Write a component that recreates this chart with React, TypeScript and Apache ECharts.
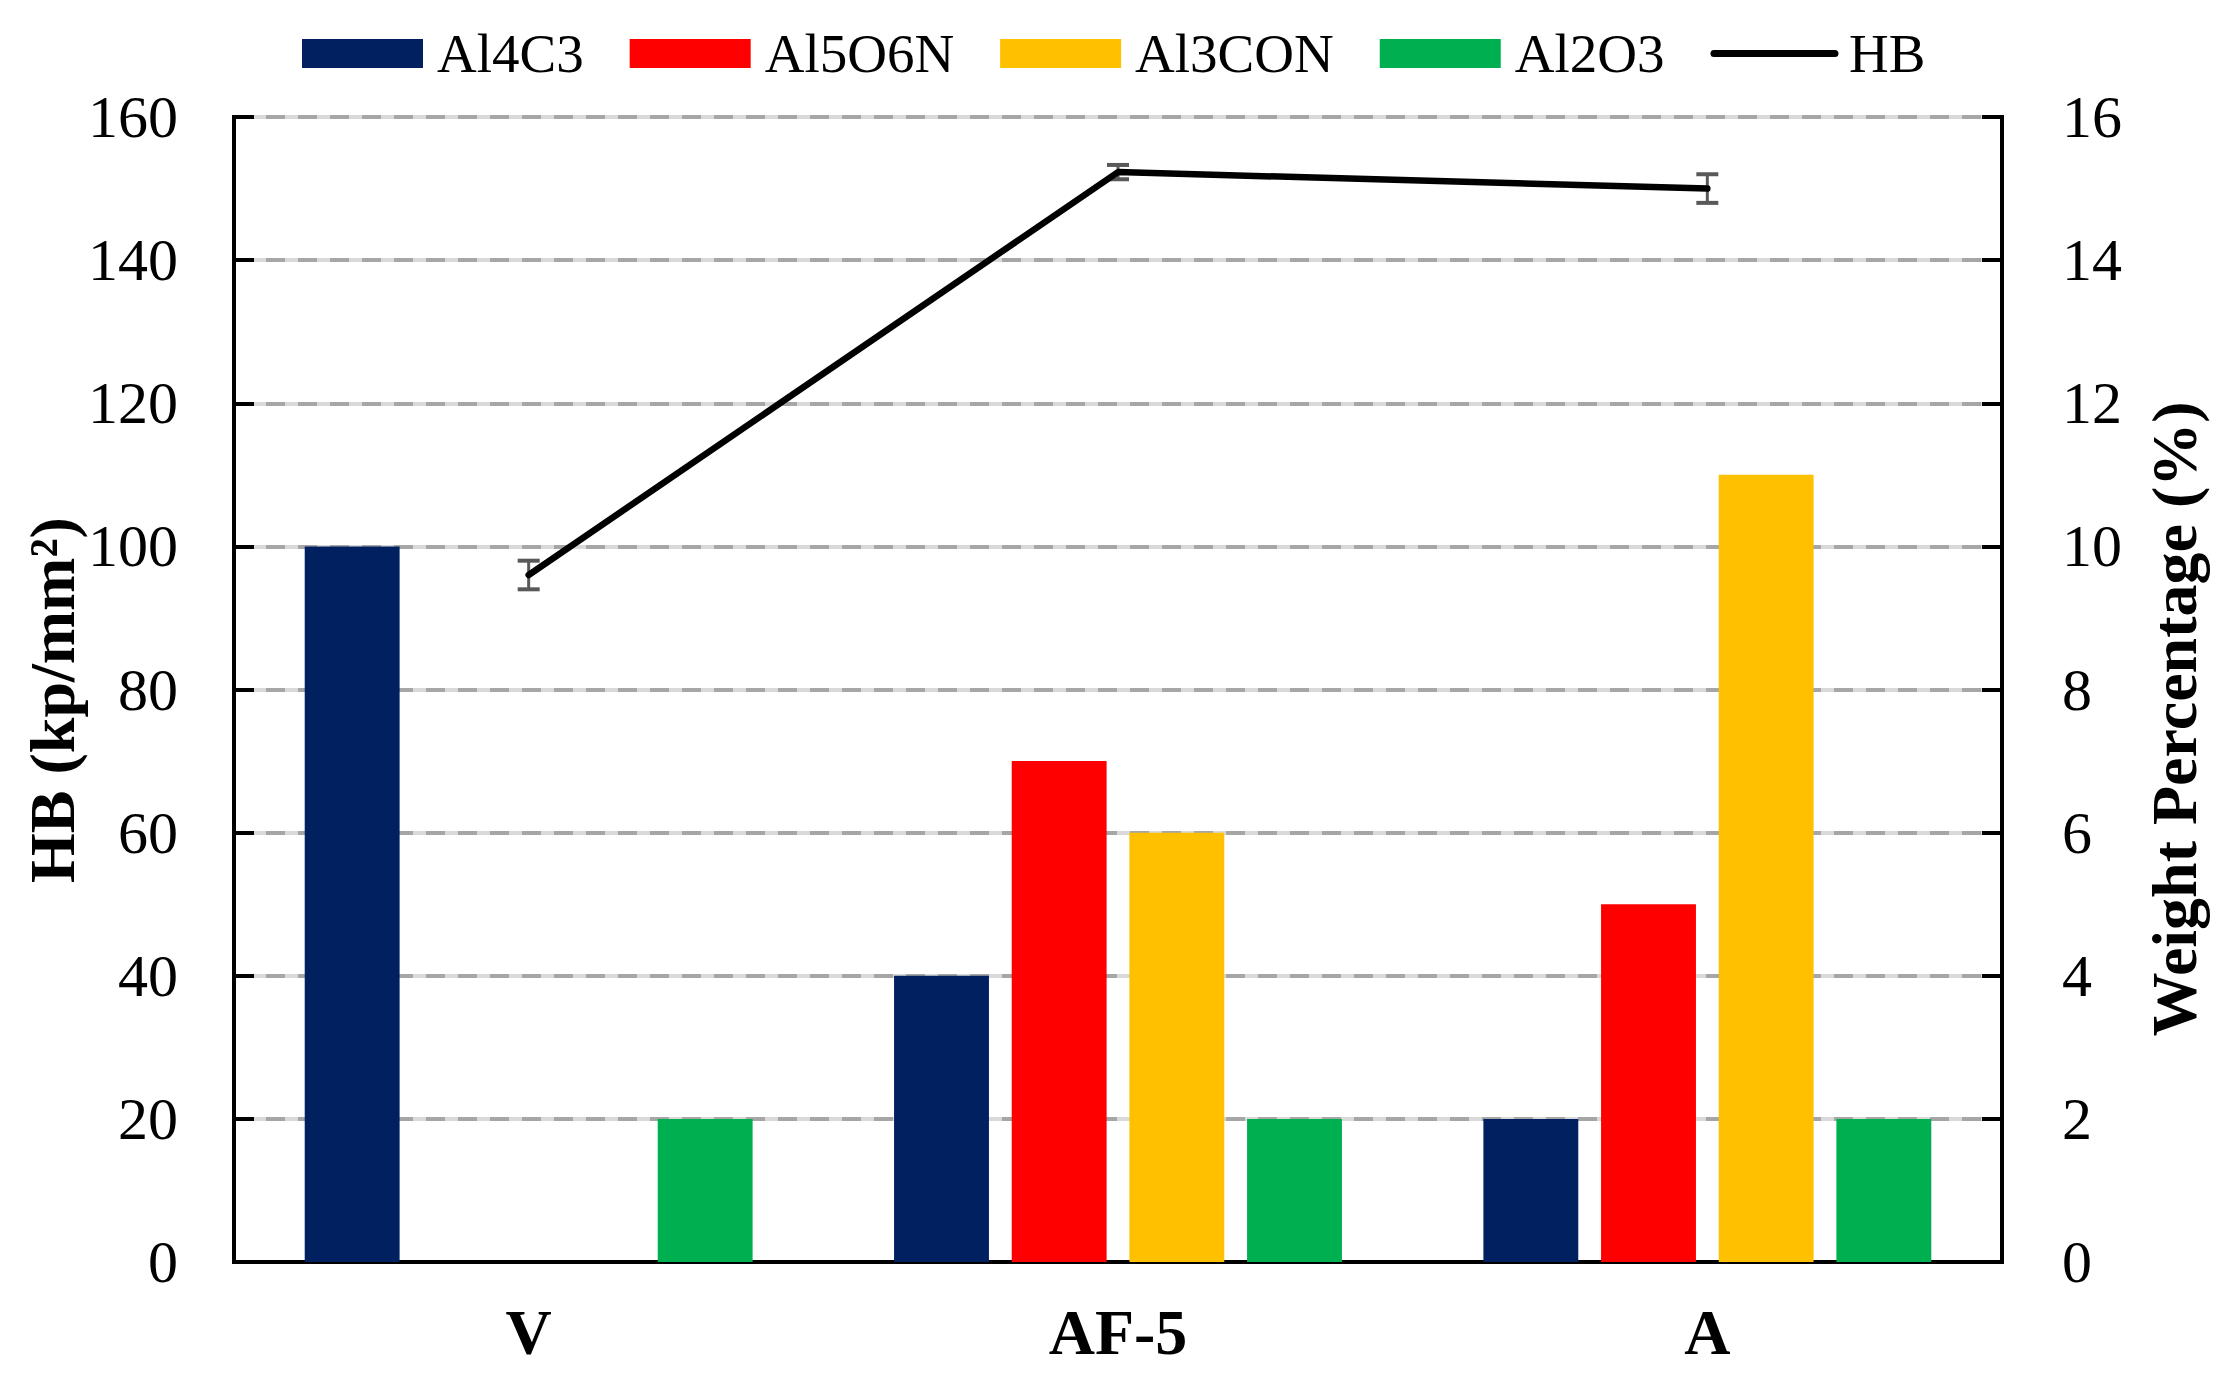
import React, { useEffect, useRef } from "react";
import * as echarts from "echarts";

const categories = ["V", "AF-5", "A"];
const al4c3 = [10, 4, 2];
const al5o6n = [0, 7, 5];
const al3con = [0, 6, 11];
const al2o3 = [2, 2, 2];
const hb = [96, 152.3, 150];
const hbErr = [2, 1, 2];
const leftTicks = { min: 0, max: 160, interval: 20 };
const rightTicks = { min: 0, max: 16, interval: 2 };

const FONT = '"Liberation Serif", "Times New Roman", serif';

export default function App() {
  const ref = useRef<HTMLDivElement>(null);
  useEffect(() => {
    if (!ref.current) return;
    const chart = echarts.init(ref.current, undefined, { renderer: "svg" });
    const barSeries = (name: string, data: number[], color: string) => ({
      name,
      type: "bar",
      yAxisIndex: 1,
      data,
      barGap: "24%",
      barCategoryGap: "24%",
      itemStyle: { color },
      z: 2,
    });
    const option: any = {
      animation: false,
      backgroundColor: "#ffffff",
      textStyle: { fontFamily: FONT },
      legend: {
        left: 297,
        top: 21,
        itemWidth: 121,
        itemHeight: 29,
        itemGap: 46,
        textStyle: { fontFamily: FONT, fontSize: 55, color: "#000", padding: [0, 0, 0, 9] },
        data: [
          { name: "Al4C3", icon: "rect" },
          { name: "Al5O6N", icon: "rect" },
          { name: "Al3CON", icon: "rect" },
          { name: "Al2O3", icon: "rect" },
          { name: "HB", itemStyle: { opacity: 0 }, lineStyle: { width: 7, color: "#000", cap: "round" } },
        ],
      },
      grid: {
        left: 234,
        right: 223,
        top: 117,
        bottom: 117,
        show: true,
        borderColor: "#000",
        borderWidth: 4,
        backgroundColor: "transparent",
      },
      xAxis: {
        type: "category",
        data: categories,
        axisLine: { lineStyle: { color: "#000", width: 4 } },
        axisTick: { inside: true, length: 19, lineStyle: { color: "#000", width: 3 } },
        axisLabel: { fontFamily: FONT, fontSize: 64, fontWeight: "bold", color: "#000", margin: 38 },
        splitLine: { show: false },
      },
      yAxis: [
        {
          type: "value",
          position: "left",
          ...leftTicks,
          axisLine: { show: true, lineStyle: { color: "#000", width: 4 } },
          axisTick: { show: true, inside: true, length: 20, lineStyle: { color: "#000", width: 4 } },
          axisLabel: { fontFamily: FONT, fontSize: 60, color: "#000", margin: 56 },
          splitLine: { show: true, lineStyle: { color: "#d9d9d9", width: 4, type: "solid" } },
        },
        {
          type: "value",
          position: "right",
          ...rightTicks,
          axisLine: { show: true, lineStyle: { color: "#000", width: 4 } },
          axisTick: { show: true, inside: true, length: 20, lineStyle: { color: "#000", width: 4 } },
          axisLabel: { fontFamily: FONT, fontSize: 60, color: "#000", margin: 60 },
          splitLine: { show: true, lineStyle: { color: "#a6a6a6", width: 4, type: [19, 13] } },
        },
      ],
      graphic: [
        {
          type: "text",
          x: 52,
          y: 700,
          rotation: Math.PI / 2,
          style: {
            text: "HB (kp/mm²)",
            font: `bold 64px ${FONT}`,
            fill: "#000",
            align: "center",
            verticalAlign: "middle",
          },
        },
        {
          type: "text",
          x: 2174,
          y: 719,
          rotation: Math.PI / 2,
          style: {
            text: "Weight Percentage (%)",
            font: `bold 64px ${FONT}`,
            fill: "#000",
            align: "center",
            verticalAlign: "middle",
          },
        },
      ],
      series: [
        barSeries("Al4C3", al4c3, "#002060"),
        barSeries("Al5O6N", al5o6n, "#FF0000"),
        barSeries("Al3CON", al3con, "#FFC000"),
        barSeries("Al2O3", al2o3, "#00B050"),
        {
          name: "HBerr",
          type: "custom",
          yAxisIndex: 0,
          z: 3,
          data: categories.map((c, i) => [i, hb[i], hb[i] + hbErr[i], hb[i] - hbErr[i]]),
          encode: { x: 0, y: [1, 2, 3] },
          renderItem: (params: any, api: any) => {
            const hi = api.coord([api.value(0), api.value(2)]);
            const lo = api.coord([api.value(0), api.value(3)]);
            const w = 11;
            const st = { stroke: "#595959", lineWidth: 4 };
            return {
              type: "group",
              children: [
                { type: "line", shape: { x1: hi[0], y1: hi[1], x2: lo[0], y2: lo[1] }, style: { stroke: "#595959", lineWidth: 3 } },
                { type: "line", shape: { x1: hi[0] - w, y1: hi[1], x2: hi[0] + w, y2: hi[1] }, style: st },
                { type: "line", shape: { x1: lo[0] - w, y1: lo[1], x2: lo[0] + w, y2: lo[1] }, style: st },
              ],
            };
          },
        },
        {
          name: "HB",
          type: "line",
          yAxisIndex: 0,
          data: hb,
          symbol: "none",
          z: 4,
          itemStyle: { color: "#000" },
          lineStyle: { color: "#000", width: 6.5, cap: "round", join: "round" },
        },
      ],
    };
    chart.setOption(option);
    return () => chart.dispose();
  }, []);
  return (
    <div
      ref={ref}
      style={{ position: "fixed", left: 0, top: 0, width: 2225, height: 1379, background: "#fff" }}
    />
  );
}
